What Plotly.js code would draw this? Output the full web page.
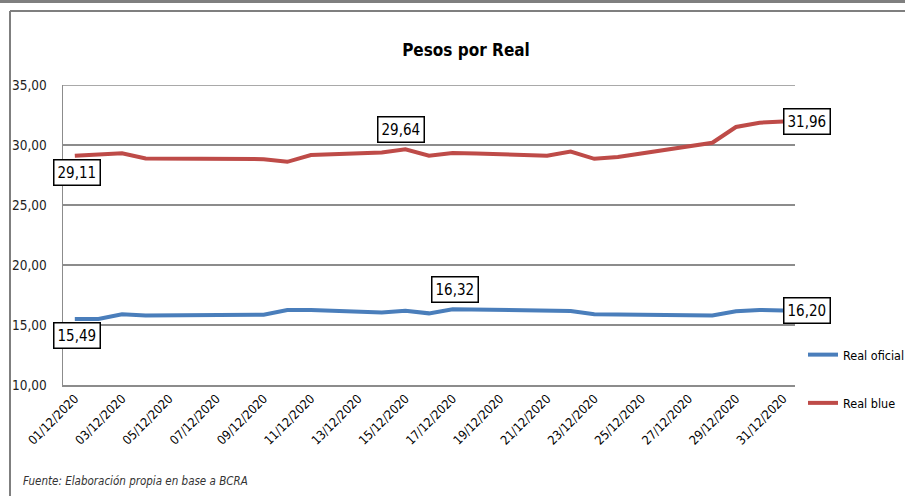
<!DOCTYPE html>
<html>
<head>
<meta charset="utf-8">
<script src="https://cdn.plot.ly/plotly-3.0.1.min.js"></script>
<style>html,body{margin:0;padding:0;background:#fff;}#chart{width:905px;height:496px;}</style>
</head>
<body>
<div id="chart"></div>
<script>
// ---- data ----
const dates = ["2020-12-01","2020-12-02","2020-12-03","2020-12-04","2020-12-09","2020-12-10","2020-12-11","2020-12-14","2020-12-15","2020-12-16","2020-12-17","2020-12-18","2020-12-21","2020-12-22","2020-12-23","2020-12-24","2020-12-28","2020-12-29","2020-12-30","2020-12-31"];
const realOficial = [15.49,15.50,15.89,15.80,15.85,16.25,16.24,16.05,16.19,15.97,16.32,16.28,16.22,16.17,15.90,15.88,15.80,16.15,16.25,16.20];
const realBlue = [29.11,29.20,29.31,28.87,28.82,28.60,29.17,29.38,29.64,29.10,29.33,29.30,29.10,29.45,28.85,29.00,30.19,31.50,31.86,31.96];
const seriesNames = ["Real oficial","Real blue"];
const chartTitle = "Pesos por Real";
const sourceNote = "Fuente: Elaboración propia en base a BCRA";
// labelled points: [series, date index]
const labelled = [["blue",0],["blue",8],["blue",19],["oficial",0],["oficial",10],["oficial",19]];

// ---- layout helpers ----
const FONT = "'Liberation Sans Narrow','Arial Narrow','DejaVu Sans Condensed',sans-serif";
const L = 63, R = 795, T = 85, B = 385;
const W = 905, H = 496;
const px = x => (x - L) / (R - L);
const py = y => (B - y) / (B - T);

const fmt = v => v.toFixed(2).replace('.', ',');

const traces = [
  {x: dates, y: realOficial, name: seriesNames[0], type: 'scatter', mode: 'lines',
   line: {color: '#4A7EBB', width: 4}, legendgroup: 'a'},
  {x: dates, y: realBlue, name: seriesNames[1], type: 'scatter', mode: 'lines',
   line: {color: '#BE4B48', width: 4}, legendgroup: 'b'}
];

// annotation placement styles
const placeStyle = {
  "blue,0":    {xanchor:'center', yanchor:'top', yshift:-3, xshift:2},
  "blue,8":    {xanchor:'center', yanchor:'bottom', yshift:6, xshift:-4},
  "blue,19":   {xanchor:'left', yanchor:'middle', yshift:0, xshift:0},
  "oficial,0": {xanchor:'center', yanchor:'top', yshift:-3, xshift:2},
  "oficial,10":{xanchor:'center', yanchor:'bottom', yshift:6, xshift:2},
  "oficial,19":{xanchor:'left', yanchor:'middle', yshift:0, xshift:0}
};
const annotations = labelled.map(([s, i]) => {
  const arr = s === 'blue' ? realBlue : realOficial;
  const st = placeStyle[s + ',' + i];
  return Object.assign({
    x: dates[i], y: arr[i], xref: 'x', yref: 'y', text: fmt(arr[i]), showarrow: false,
    font: {family: FONT, size: 15, color: '#000'},
    bgcolor: '#fff', bordercolor: '#000', borderwidth: 1.5, borderpad: 3
  }, st);
});
annotations.push({
  text: sourceNote, xref: 'paper', yref: 'paper', x: px(21), y: py(481),
  xanchor: 'left', yanchor: 'middle', showarrow: false,
  font: {family: FONT, size: 11.5, color: '#333', style: 'italic'}
});

const GRID = '#8c8c8c';
const layout = {
  width: W, height: H,
  margin: {l: L, r: W - R, t: T, b: H - B, pad: 0, autoexpand: false},
  paper_bgcolor: '#fff', plot_bgcolor: '#fff',
  separators: ',.',
  title: {text: chartTitle, x: 466 / W, xanchor: 'center', y: 1 - 50 / H, yanchor: 'middle',
          font: {family: FONT, size: 17, color: '#000', weight: 'bold'}},
  showlegend: true,
  legend: {x: px(803), y: py(340), xanchor: 'left', yanchor: 'top',
           font: {family: FONT, size: 12.5, color: '#000'}, tracegroupgap: 29,
           traceorder: 'grouped', itemwidth: 30, bgcolor: 'rgba(0,0,0,0)'},
  xaxis: {type: 'date', range: ['2020-11-30 12:00', '2020-12-31 12:00'],
          tick0: '2020-12-01', dtick: 2 * 86400000, tickformat: '%d/%m/%Y',
          tickangle: -45, showgrid: false, zeroline: false, automargin: false,
          showline: true, linecolor: GRID, linewidth: 1.5,
          ticks: '', tickfont: {family: FONT, size: 12.5, color: '#000'}},
  yaxis: {range: [10, 35], tick0: 10, dtick: 5, tickformat: '.2f', automargin: false,
          showgrid: true, gridcolor: GRID, gridwidth: 1.5, zeroline: false,
          showline: true, linecolor: GRID, linewidth: 1.5, mirror: false,
          ticks: '', ticklabelstandoff: 12,
          tickfont: {family: FONT, size: 13.5, color: '#222'}},
  annotations: annotations,
  shapes: [
    {type: 'rect', xref: 'paper', yref: 'paper', x0: px(0), x1: px(W), y0: py(3), y1: py(0),
     fillcolor: '#7f7f7f', line: {width: 0}},
    {type: 'line', xref: 'paper', yref: 'paper', x0: px(10), x1: px(W), y0: py(11), y1: py(11),
     line: {color: '#7f7f7f', width: 2}},
    {type: 'line', xref: 'paper', yref: 'paper', x0: px(10), x1: px(10), y0: py(11), y1: py(H),
     line: {color: '#7f7f7f', width: 2}},
    {type: 'line', xref: 'paper', yref: 'y', x0: 0, x1: 1, y0: 35, y1: 35,
     line: {color: GRID, width: 1.5}}
  ]
};

Plotly.newPlot('chart', traces, layout, {staticPlot: true, displayModeBar: false});
</script>
</body>
</html>
